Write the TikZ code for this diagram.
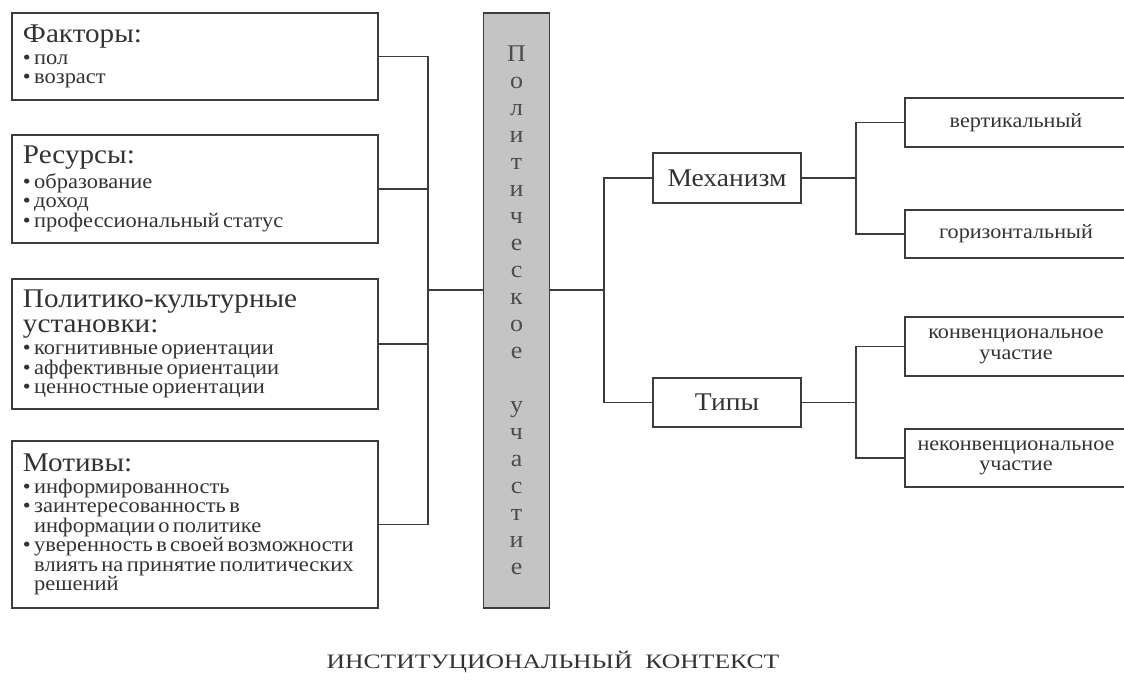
\documentclass[tikz,border=0pt]{standalone}
\usepackage{fontspec}
\setmainfont{Liberation Serif}[FakeStretch=1.08]
\newfontfamily\widefont{Liberation Serif}[FakeStretch=1.25]
\setlength{\parindent}{0pt}
\definecolor{ln}{HTML}{3C3C3C}
\definecolor{tx}{HTML}{333333}
\definecolor{cfill}{HTML}{C4C4C4}
\newcommand{\ttl}[1]{{\fontsize{27}{25}\selectfont #1\par}\vskip 2.5pt}
\newcommand{\itm}[1]{{\fontsize{20.8}{19.5}\selectfont\mbox{•\ #1}\par}}
\newcommand{\itmc}[1]{{\fontsize{20.8}{19.5}\selectfont\mbox{\hphantom{•\ }#1}\par}}
\begin{document}
\begin{tikzpicture}[x=1pt,y=-1pt,
  every node/.style={text=tx},
  box/.style={draw=ln,line width=1.8pt,inner sep=0pt},
  lbox/.style={box,minimum width=366pt,text width=344pt,inner xsep=11pt,align=left},
  cbox/.style={box,fill=cfill,minimum width=66pt,minimum height=595pt,align=center,
     font=\fontsize{24}{27}\selectfont,text=black!70},
  mbox/.style={box,minimum width=148pt,font=\fontsize{25.5}{25}\selectfont},
  rbox/.style={box,minimum width=222pt,align=center,font=\fontsize{20.5}{20.5}\selectfont},
  conn/.style={draw=ln,line width=1.8pt}]
\clip (0,0) rectangle (1124,681);
% left boxes
\node[lbox,minimum height=87pt] (f) at (195,56.5)
  {\ttl{Факторы:}\itm{пол}\itm{возраст}};
\node[lbox,minimum height=108pt] (r) at (195,189)
  {\ttl{Ресурсы:}\itm{образование}\itm{доход}\itm{профессиональный статус}};
\node[lbox,minimum height=130pt] (p) at (195,344)
  {\ttl{Политико-культурные\\установки:}\itm{когнитивные ориентации}\itm{аффективные ориентации}\itm{ценностные ориентации}};
\node[lbox,minimum height=167pt] (m) at (195,524.5)
  {\ttl{Мотивы:}\itm{информированность}\itm{заинтересованность в}\itmc{информации о политике}\itm{уверенность в своей возможности}\itmc{влиять на принятие политических}\itmc{решений}};
% central box
\node[cbox] (pu) at (516.5,310.5)
  {П\\о\\л\\и\\т\\и\\ч\\е\\с\\к\\о\\е\\[27pt]у\\ч\\а\\с\\т\\и\\е};
% middle boxes
\node[mbox,minimum height=50pt] (mex) at (727,178) {Механизм};
\node[mbox,minimum height=49pt] (tip) at (727,402.5) {Типы};
% right boxes
\node[rbox,minimum height=49pt] (ver) at (1016,122.5) {вертикальный};
\node[rbox,minimum height=48pt] (hor) at (1016,234) {горизонтальный};
\node[rbox,minimum height=59pt] (kon) at (1016,346.5) {конвенциональное\\участие};
\node[rbox,minimum height=58pt] (nek) at (1016,458) {неконвенциональное\\участие};
% bottom text
\node[font=\widefont\fontsize{20.5}{21}\selectfont] (ik) at (553,662) {ИНСТИТУЦИОНАЛЬНЫЙ\ \ КОНТЕКСТ};
% connectors
\coordinate (lb) at (428,290);
\coordinate (rb) at (604,290);
\coordinate (rb2) at (856,290);
\draw[conn] (f.east) -- (f.east -| lb) -- (m.east -| lb) -- (m.east);
\draw[conn] (r.east) -- (r.east -| lb);
\draw[conn] (p.east) -- (p.east -| lb);
\draw[conn] (lb) -- (lb -| pu.west);
\draw[conn] (pu.east |- rb) -- (rb);
\draw[conn] (mex.west) -- (mex.west -| rb) -- (tip.west -| rb) -- (tip.west);
\draw[conn] (mex.east) -- (mex.east -| rb2);
\draw[conn] (ver.west) -- (ver.west -| rb2) -- (hor.west -| rb2) -- (hor.west);
\draw[conn] (tip.east) -- (tip.east -| rb2);
\draw[conn] (kon.west) -- (kon.west -| rb2) -- (nek.west -| rb2) -- (nek.west);
\end{tikzpicture}
\end{document}
